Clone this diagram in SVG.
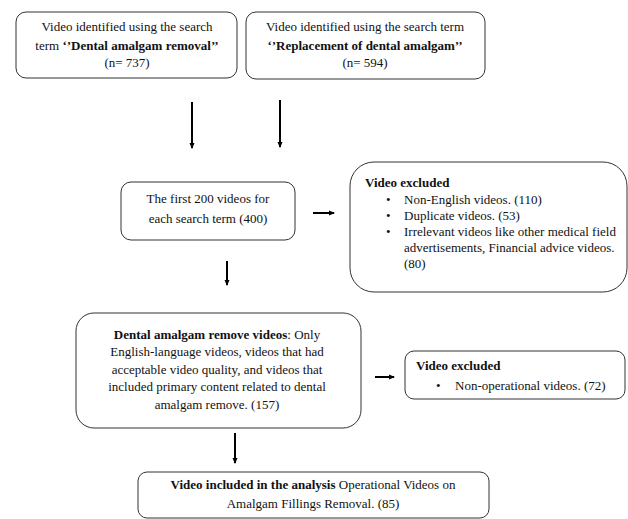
<svg xmlns="http://www.w3.org/2000/svg" width="628" height="519" viewBox="0 0 628 519">
<defs>
<marker id="ah" markerWidth="6" markerHeight="6" refX="5" refY="3" orient="auto" markerUnits="userSpaceOnUse">
<path d="M0,0.5 L6,3 L0,5.5 Z" fill="#000"/>
</marker>
<style>
.box{fill:#fff;stroke:#333;stroke-width:1}
.c{text-anchor:middle}
.b{font-weight:bold}
.ar{stroke:#000;stroke-width:2;fill:none;marker-end:url(#ah)}
</style>
</defs>
<rect width="628" height="519" fill="#fff"/>
<g id="connectors">
<line class="ar" x1="192" y1="102" x2="192" y2="148"/>
<line class="ar" x1="280" y1="100" x2="280" y2="147"/>
<line class="ar" x1="313" y1="213" x2="334" y2="213"/>
<line class="ar" x1="227" y1="261" x2="227" y2="285"/>
<line class="ar" x1="375" y1="377" x2="394" y2="377"/>
<line class="ar" x1="235" y1="433" x2="235" y2="463"/>
</g>
<g font-family="'Liberation Serif', 'Times New Roman', 'DejaVu Serif', serif" font-size="13" fill="#111">
<g id="n1">
<rect class="box" x="16" y="12" width="221" height="66" rx="10"/>
<text class="c" x="127" y="31">Video identified using the search</text>
<text class="c" x="127" y="50">term <tspan class="b">‘’Dental amalgam removal’’</tspan></text>
<text class="c" x="127" y="67">(n= 737)</text>
</g>
<g id="n2">
<rect class="box" x="246" y="12" width="239" height="67" rx="10"/>
<text class="c" x="365" y="31">Video identified using the search term</text>
<text class="c b" x="365" y="50">‘’Replacement of dental amalgam’’</text>
<text class="c" x="365" y="67">(n= 594)</text>
</g>
<g id="n3">
<rect class="box" x="121" y="182" width="174" height="58" rx="10"/>
<text class="c" x="208" y="203">The first 200 videos for</text>
<text class="c" x="208" y="223">each search term (400)</text>
</g>
<g id="n4">
<rect class="box" x="350" y="162" width="277" height="130" rx="24"/>
<text class="b" x="365" y="187">Video excluded</text>
<text x="386" y="204">•</text><text x="404" y="204">Non-English videos. (110)</text>
<text x="386" y="220">•</text><text x="404" y="220">Duplicate videos. (53)</text>
<text x="386" y="236">•</text><text x="404" y="236">Irrelevant videos like other medical field</text>
<text x="404" y="252">advertisements, Financial advice videos.</text>
<text x="404" y="268">(80)</text>
</g>
<g id="n5">
<rect class="box" x="76" y="313" width="285" height="115" rx="18"/>
<text class="c" x="217" y="339"><tspan class="b">Dental amalgam remove videos</tspan>: Only</text>
<text class="c" x="217" y="356">English-language videos, videos that had</text>
<text class="c" x="217" y="374">acceptable video quality, and videos that</text>
<text class="c" x="217" y="391">included primary content related to dental</text>
<text class="c" x="217" y="409">amalgam remove. (157)</text>
</g>
<g id="n6">
<rect class="box" x="405" y="351" width="220" height="48" rx="9"/>
<text class="b" x="416" y="370">Video excluded</text>
<text x="436" y="390">•</text><text x="455" y="390">Non-operational videos. (72)</text>
</g>
<g id="n7">
<rect class="box" x="138" y="472" width="351" height="46" rx="9"/>
<text class="c" x="313" y="489"><tspan class="b">Video included in the analysis</tspan> Operational Videos on</text>
<text class="c" x="313" y="508">Amalgam Fillings Removal. (85)</text>
</g>
</g>
</svg>
